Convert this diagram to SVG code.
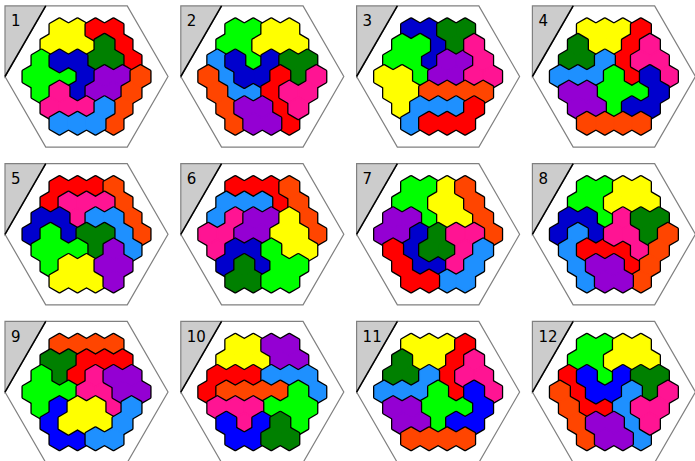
<svg xmlns="http://www.w3.org/2000/svg" width="695" height="461" viewBox="0 0 695 461">
<style>
.k{fill:#000;stroke:#000;stroke-width:4.2;stroke-linejoin:round}
.Y{fill:#ffff00;stroke:#ffff00;stroke-width:1.6}
.R{fill:#ff0000;stroke:#ff0000;stroke-width:1.6}
.G{fill:#00ff00;stroke:#00ff00;stroke-width:1.6}
.D{fill:#008000;stroke:#008000;stroke-width:1.6}
.B{fill:#0000cd;stroke:#0000cd;stroke-width:1.6}
.B2{fill:#0000ff;stroke:#0000ff;stroke-width:1.6}
.P{fill:#9400d3;stroke:#9400d3;stroke-width:1.6}
.K{fill:#ff1493;stroke:#ff1493;stroke-width:1.6}
.L{fill:#1e90ff;stroke:#1e90ff;stroke-width:1.6}
.O{fill:#ff4500;stroke:#ff4500;stroke-width:1.6}
.n{font-family:"DejaVu Sans","Liberation Sans",sans-serif;font-size:15px;fill:#000}
</style>
<defs>
<path id="h" d="M0,-10.392L9,-5.196L9,5.196L0,10.392L-9,5.196L-9,-5.196Z"/>
<g id="frame">
<polygon points="-40.75,-70.58 40.75,-70.58 81.5,0 40.75,70.58 -40.75,70.58 -81.5,0" fill="#fff" stroke="#808080" stroke-width="1.2"/>
<polygon points="-81.5,-70.58 -40.75,-70.58 -81.5,0" fill="#cccccc" stroke="#808080" stroke-width="1.2"/>
<line x1="-40.75" y1="-70.58" x2="-81.5" y2="0" stroke="#000" stroke-width="1.5"/>
</g>
<!-- puzzle 1 -->
<g id="p1Y"><use href="#h" x="-27" y="-46.77"/><use href="#h" x="-9" y="-46.77"/><use href="#h" x="-36" y="-31.18"/><use href="#h" x="-18" y="-31.18"/><use href="#h" x="0" y="-31.18"/></g>
<g id="p1R"><use href="#h" x="9" y="-46.77"/><use href="#h" x="27" y="-46.77"/><use href="#h" x="36" y="-31.18"/><use href="#h" x="45" y="-15.59"/></g>
<g id="p1D"><use href="#h" x="18" y="-31.18"/><use href="#h" x="9" y="-15.59"/><use href="#h" x="27" y="-15.59"/></g>
<g id="p1G"><use href="#h" x="-45" y="-15.59"/><use href="#h" x="-54" y="0"/><use href="#h" x="-36" y="0"/><use href="#h" x="-18" y="0"/><use href="#h" x="-45" y="15.59"/></g>
<g id="p1B"><use href="#h" x="-27" y="-15.59"/><use href="#h" x="-9" y="-15.59"/><use href="#h" x="0" y="0"/><use href="#h" x="-9" y="15.59"/></g>
<g id="p1P"><use href="#h" x="18" y="0"/><use href="#h" x="36" y="0"/><use href="#h" x="9" y="15.59"/><use href="#h" x="27" y="15.59"/></g>
<g id="p1O"><use href="#h" x="54" y="0"/><use href="#h" x="45" y="15.59"/><use href="#h" x="36" y="31.18"/><use href="#h" x="27" y="46.77"/></g>
<g id="p1K"><use href="#h" x="-27" y="15.59"/><use href="#h" x="-36" y="31.18"/><use href="#h" x="-18" y="31.18"/><use href="#h" x="0" y="31.18"/></g>
<g id="p1L"><use href="#h" x="18" y="31.18"/><use href="#h" x="-27" y="46.77"/><use href="#h" x="-9" y="46.77"/><use href="#h" x="9" y="46.77"/></g>
<!-- puzzle 2 -->
<g id="p2G"><use href="#h" x="-27" y="-46.77"/><use href="#h" x="-9" y="-46.77"/><use href="#h" x="-36" y="-31.18"/><use href="#h" x="-18" y="-31.18"/><use href="#h" x="-9" y="-15.59"/></g>
<g id="p2Y"><use href="#h" x="9" y="-46.77"/><use href="#h" x="27" y="-46.77"/><use href="#h" x="0" y="-31.18"/><use href="#h" x="18" y="-31.18"/><use href="#h" x="36" y="-31.18"/></g>
<g id="p2L"><use href="#h" x="-45" y="-15.59"/><use href="#h" x="-36" y="0"/><use href="#h" x="-27" y="15.59"/><use href="#h" x="-9" y="15.59"/></g>
<g id="p2B"><use href="#h" x="-27" y="-15.59"/><use href="#h" x="9" y="-15.59"/><use href="#h" x="-18" y="0"/><use href="#h" x="0" y="0"/></g>
<g id="p2D"><use href="#h" x="27" y="-15.59"/><use href="#h" x="45" y="-15.59"/><use href="#h" x="36" y="0"/></g>
<g id="p2O"><use href="#h" x="-54" y="0"/><use href="#h" x="-45" y="15.59"/><use href="#h" x="-36" y="31.18"/><use href="#h" x="-27" y="46.77"/></g>
<g id="p2R"><use href="#h" x="18" y="0"/><use href="#h" x="9" y="15.59"/><use href="#h" x="18" y="31.18"/><use href="#h" x="27" y="46.77"/></g>
<g id="p2K"><use href="#h" x="54" y="0"/><use href="#h" x="27" y="15.59"/><use href="#h" x="45" y="15.59"/><use href="#h" x="36" y="31.18"/></g>
<g id="p2P"><use href="#h" x="-18" y="31.18"/><use href="#h" x="0" y="31.18"/><use href="#h" x="-9" y="46.77"/><use href="#h" x="9" y="46.77"/></g>
<!-- puzzle 3 -->
<g id="p3B"><use href="#h" x="-27" y="-46.77"/><use href="#h" x="-9" y="-46.77"/><use href="#h" x="0" y="-31.18"/><use href="#h" x="-9" y="-15.59"/></g>
<g id="p3D"><use href="#h" x="9" y="-46.77"/><use href="#h" x="27" y="-46.77"/><use href="#h" x="18" y="-31.18"/></g>
<g id="p3G"><use href="#h" x="-36" y="-31.18"/><use href="#h" x="-18" y="-31.18"/><use href="#h" x="-45" y="-15.59"/><use href="#h" x="-27" y="-15.59"/><use href="#h" x="-18" y="0"/></g>
<g id="p3P"><use href="#h" x="9" y="-15.59"/><use href="#h" x="27" y="-15.59"/><use href="#h" x="0" y="0"/><use href="#h" x="18" y="0"/></g>
<g id="p3K"><use href="#h" x="36" y="-31.18"/><use href="#h" x="45" y="-15.59"/><use href="#h" x="36" y="0"/><use href="#h" x="54" y="0"/></g>
<g id="p3Y"><use href="#h" x="-54" y="0"/><use href="#h" x="-36" y="0"/><use href="#h" x="-45" y="15.59"/><use href="#h" x="-27" y="15.59"/><use href="#h" x="-36" y="31.18"/></g>
<g id="p3O"><use href="#h" x="-9" y="15.59"/><use href="#h" x="9" y="15.59"/><use href="#h" x="27" y="15.59"/><use href="#h" x="45" y="15.59"/></g>
<g id="p3L"><use href="#h" x="-18" y="31.18"/><use href="#h" x="0" y="31.18"/><use href="#h" x="18" y="31.18"/><use href="#h" x="-27" y="46.77"/></g>
<g id="p3R"><use href="#h" x="36" y="31.18"/><use href="#h" x="-9" y="46.77"/><use href="#h" x="9" y="46.77"/><use href="#h" x="27" y="46.77"/></g>
<!-- puzzle 4 / 11 -->
<g id="p4Y"><use href="#h" x="-27" y="-46.77"/><use href="#h" x="-9" y="-46.77"/><use href="#h" x="9" y="-46.77"/><use href="#h" x="-18" y="-31.18"/><use href="#h" x="0" y="-31.18"/></g>
<g id="p4R"><use href="#h" x="27" y="-46.77"/><use href="#h" x="18" y="-31.18"/><use href="#h" x="9" y="-15.59"/><use href="#h" x="18" y="0"/></g>
<g id="p4D"><use href="#h" x="-36" y="-31.18"/><use href="#h" x="-45" y="-15.59"/><use href="#h" x="-27" y="-15.59"/></g>
<g id="p4L"><use href="#h" x="-9" y="-15.59"/><use href="#h" x="-54" y="0"/><use href="#h" x="-36" y="0"/><use href="#h" x="-18" y="0"/></g>
<g id="p4K"><use href="#h" x="36" y="-31.18"/><use href="#h" x="27" y="-15.59"/><use href="#h" x="45" y="-15.59"/><use href="#h" x="54" y="0"/></g>
<g id="p4G"><use href="#h" x="0" y="0"/><use href="#h" x="-9" y="15.59"/><use href="#h" x="9" y="15.59"/><use href="#h" x="27" y="15.59"/><use href="#h" x="0" y="31.18"/></g>
<g id="p4B"><use href="#h" x="36" y="0"/><use href="#h" x="45" y="15.59"/><use href="#h" x="18" y="31.18"/><use href="#h" x="36" y="31.18"/></g>
<g id="p4P"><use href="#h" x="-45" y="15.59"/><use href="#h" x="-27" y="15.59"/><use href="#h" x="-36" y="31.18"/><use href="#h" x="-18" y="31.18"/></g>
<g id="p4O"><use href="#h" x="-27" y="46.77"/><use href="#h" x="-9" y="46.77"/><use href="#h" x="9" y="46.77"/><use href="#h" x="27" y="46.77"/></g>
<!-- puzzle 5 -->
<g id="p5R"><use href="#h" x="-27" y="-46.77"/><use href="#h" x="-9" y="-46.77"/><use href="#h" x="9" y="-46.77"/><use href="#h" x="-36" y="-31.18"/></g>
<g id="p5O"><use href="#h" x="27" y="-46.77"/><use href="#h" x="36" y="-31.18"/><use href="#h" x="45" y="-15.59"/><use href="#h" x="54" y="0"/></g>
<g id="p5K"><use href="#h" x="-18" y="-31.18"/><use href="#h" x="0" y="-31.18"/><use href="#h" x="18" y="-31.18"/><use href="#h" x="-9" y="-15.59"/></g>
<g id="p5B"><use href="#h" x="-45" y="-15.59"/><use href="#h" x="-27" y="-15.59"/><use href="#h" x="-54" y="0"/><use href="#h" x="-18" y="0"/></g>
<g id="p5L"><use href="#h" x="9" y="-15.59"/><use href="#h" x="27" y="-15.59"/><use href="#h" x="36" y="0"/><use href="#h" x="45" y="15.59"/></g>
<g id="p5D"><use href="#h" x="0" y="0"/><use href="#h" x="18" y="0"/><use href="#h" x="9" y="15.59"/></g>
<g id="p5G"><use href="#h" x="-36" y="0"/><use href="#h" x="-45" y="15.59"/><use href="#h" x="-27" y="15.59"/><use href="#h" x="-9" y="15.59"/><use href="#h" x="-36" y="31.18"/></g>
<g id="p5Y"><use href="#h" x="-18" y="31.18"/><use href="#h" x="0" y="31.18"/><use href="#h" x="-27" y="46.77"/><use href="#h" x="-9" y="46.77"/><use href="#h" x="9" y="46.77"/></g>
<g id="p5P"><use href="#h" x="27" y="15.59"/><use href="#h" x="18" y="31.18"/><use href="#h" x="36" y="31.18"/><use href="#h" x="27" y="46.77"/></g>
<!-- puzzle 6 -->
<g id="p6R"><use href="#h" x="-27" y="-46.77"/><use href="#h" x="-9" y="-46.77"/><use href="#h" x="9" y="-46.77"/><use href="#h" x="18" y="-31.18"/></g>
<g id="p6L"><use href="#h" x="-36" y="-31.18"/><use href="#h" x="-18" y="-31.18"/><use href="#h" x="0" y="-31.18"/><use href="#h" x="-45" y="-15.59"/></g>
<g id="p6K"><use href="#h" x="-27" y="-15.59"/><use href="#h" x="-54" y="0"/><use href="#h" x="-36" y="0"/><use href="#h" x="-45" y="15.59"/></g>
<g id="p6P"><use href="#h" x="-9" y="-15.59"/><use href="#h" x="9" y="-15.59"/><use href="#h" x="-18" y="0"/><use href="#h" x="0" y="0"/></g>
<g id="p6Y"><use href="#h" x="27" y="-15.59"/><use href="#h" x="18" y="0"/><use href="#h" x="36" y="0"/><use href="#h" x="27" y="15.59"/><use href="#h" x="45" y="15.59"/></g>
<g id="p6B"><use href="#h" x="-27" y="15.59"/><use href="#h" x="-9" y="15.59"/><use href="#h" x="-36" y="31.18"/><use href="#h" x="0" y="31.18"/></g>
<g id="p6D"><use href="#h" x="-18" y="31.18"/><use href="#h" x="-27" y="46.77"/><use href="#h" x="-9" y="46.77"/></g>
<g id="p6G"><use href="#h" x="9" y="15.59"/><use href="#h" x="18" y="31.18"/><use href="#h" x="36" y="31.18"/><use href="#h" x="9" y="46.77"/><use href="#h" x="27" y="46.77"/></g>
<!-- puzzle 7 / 8 -->
<g id="p7Y"><use href="#h" x="9" y="-46.77"/><use href="#h" x="0" y="-31.18"/><use href="#h" x="18" y="-31.18"/><use href="#h" x="9" y="-15.59"/><use href="#h" x="27" y="-15.59"/></g>
<g id="p7P"><use href="#h" x="-45" y="-15.59"/><use href="#h" x="-27" y="-15.59"/><use href="#h" x="-54" y="0"/><use href="#h" x="-36" y="0"/></g>
<g id="p7B"><use href="#h" x="-18" y="0"/><use href="#h" x="-27" y="15.59"/><use href="#h" x="-18" y="31.18"/><use href="#h" x="0" y="31.18"/></g>
<g id="p7D"><use href="#h" x="0" y="0"/><use href="#h" x="-9" y="15.59"/><use href="#h" x="9" y="15.59"/></g>
<g id="p7K"><use href="#h" x="18" y="0"/><use href="#h" x="36" y="0"/><use href="#h" x="27" y="15.59"/><use href="#h" x="18" y="31.18"/></g>
<g id="p7L"><use href="#h" x="45" y="15.59"/><use href="#h" x="36" y="31.18"/><use href="#h" x="9" y="46.77"/><use href="#h" x="27" y="46.77"/></g>
<g id="p7R"><use href="#h" x="-45" y="15.59"/><use href="#h" x="-36" y="31.18"/><use href="#h" x="-27" y="46.77"/><use href="#h" x="-9" y="46.77"/></g>
<g id="p8L"><use href="#h" x="-36" y="0"/><use href="#h" x="-45" y="15.59"/><use href="#h" x="-36" y="31.18"/><use href="#h" x="-27" y="46.77"/></g>
<g id="p8R"><use href="#h" x="-27" y="15.59"/><use href="#h" x="-9" y="15.59"/><use href="#h" x="9" y="15.59"/><use href="#h" x="18" y="31.18"/></g>
<g id="p8K"><use href="#h" x="9" y="-15.59"/><use href="#h" x="0" y="0"/><use href="#h" x="18" y="0"/><use href="#h" x="27" y="15.59"/></g>
<!-- puzzle 9 -->
<g id="p9O"><use href="#h" x="-27" y="-46.77"/><use href="#h" x="-9" y="-46.77"/><use href="#h" x="9" y="-46.77"/><use href="#h" x="27" y="-46.77"/></g>
<g id="p9D"><use href="#h" x="-36" y="-31.18"/><use href="#h" x="-18" y="-31.18"/><use href="#h" x="-27" y="-15.59"/></g>
<g id="p9R"><use href="#h" x="0" y="-31.18"/><use href="#h" x="18" y="-31.18"/><use href="#h" x="36" y="-31.18"/><use href="#h" x="-9" y="-15.59"/></g>
<g id="p9P"><use href="#h" x="27" y="-15.59"/><use href="#h" x="45" y="-15.59"/><use href="#h" x="36" y="0"/><use href="#h" x="54" y="0"/></g>
<g id="p9B"><use href="#h" x="-27" y="15.59"/><use href="#h" x="-36" y="31.18"/><use href="#h" x="-27" y="46.77"/><use href="#h" x="-9" y="46.77"/></g>
<g id="p9Y"><use href="#h" x="-9" y="15.59"/><use href="#h" x="9" y="15.59"/><use href="#h" x="-18" y="31.18"/><use href="#h" x="0" y="31.18"/><use href="#h" x="18" y="31.18"/></g>
<!-- puzzle 10 -->
<g id="p10P"><use href="#h" x="9" y="-46.77"/><use href="#h" x="27" y="-46.77"/><use href="#h" x="18" y="-31.18"/><use href="#h" x="36" y="-31.18"/></g>
<g id="p10R"><use href="#h" x="-45" y="-15.59"/><use href="#h" x="-27" y="-15.59"/><use href="#h" x="-9" y="-15.59"/><use href="#h" x="-54" y="0"/></g>
<g id="p10L"><use href="#h" x="9" y="-15.59"/><use href="#h" x="27" y="-15.59"/><use href="#h" x="45" y="-15.59"/><use href="#h" x="54" y="0"/></g>
<g id="p10O"><use href="#h" x="-36" y="0"/><use href="#h" x="-18" y="0"/><use href="#h" x="0" y="0"/><use href="#h" x="18" y="0"/></g>
<g id="p10G"><use href="#h" x="36" y="0"/><use href="#h" x="9" y="15.59"/><use href="#h" x="27" y="15.59"/><use href="#h" x="45" y="15.59"/><use href="#h" x="36" y="31.18"/></g>
<g id="p10K"><use href="#h" x="-45" y="15.59"/><use href="#h" x="-27" y="15.59"/><use href="#h" x="-9" y="15.59"/><use href="#h" x="-18" y="31.18"/></g>
<g id="p10B"><use href="#h" x="-36" y="31.18"/><use href="#h" x="0" y="31.18"/><use href="#h" x="-27" y="46.77"/><use href="#h" x="-9" y="46.77"/></g>
<g id="p10D"><use href="#h" x="18" y="31.18"/><use href="#h" x="9" y="46.77"/><use href="#h" x="27" y="46.77"/></g>
</defs>
<rect width="695" height="461" fill="#fff"/>

<g id="puzzle1" transform="translate(86.5 76.5)">
<use href="#frame"/><text class="n" x="-75.5" y="-50.5">1</text>
<g id="pz1-yellow"><use href="#p1Y" class="k"/><use href="#p1Y" class="Y"/></g>
<g id="pz1-red"><use href="#p1R" class="k"/><use href="#p1R" class="R"/></g>
<g id="pz1-darkgreen"><use href="#p1D" class="k"/><use href="#p1D" class="D"/></g>
<g id="pz1-green"><use href="#p1G" class="k"/><use href="#p1G" class="G"/></g>
<g id="pz1-blue"><use href="#p1B" class="k"/><use href="#p1B" class="B"/></g>
<g id="pz1-purple"><use href="#p1P" class="k"/><use href="#p1P" class="P"/></g>
<g id="pz1-orange"><use href="#p1O" class="k"/><use href="#p1O" class="O"/></g>
<g id="pz1-pink"><use href="#p1K" class="k"/><use href="#p1K" class="K"/></g>
<g id="pz1-lightblue"><use href="#p1L" class="k"/><use href="#p1L" class="L"/></g>
</g>

<g id="puzzle2" transform="translate(262.3 76.5)">
<use href="#frame"/><text class="n" x="-75.5" y="-50.5">2</text>
<g id="pz2-green"><use href="#p2G" class="k"/><use href="#p2G" class="G"/></g>
<g id="pz2-yellow"><use href="#p2Y" class="k"/><use href="#p2Y" class="Y"/></g>
<g id="pz2-lightblue"><use href="#p2L" class="k"/><use href="#p2L" class="L"/></g>
<g id="pz2-blue"><use href="#p2B" class="k"/><use href="#p2B" class="B"/></g>
<g id="pz2-darkgreen"><use href="#p2D" class="k"/><use href="#p2D" class="D"/></g>
<g id="pz2-orange"><use href="#p2O" class="k"/><use href="#p2O" class="O"/></g>
<g id="pz2-red"><use href="#p2R" class="k"/><use href="#p2R" class="R"/></g>
<g id="pz2-pink"><use href="#p2K" class="k"/><use href="#p2K" class="K"/></g>
<g id="pz2-purple"><use href="#p2P" class="k"/><use href="#p2P" class="P"/></g>
</g>

<g id="puzzle3" transform="translate(438.1 76.5)">
<use href="#frame"/><text class="n" x="-75.5" y="-50.5">3</text>
<g id="pz3-blue"><use href="#p3B" class="k"/><use href="#p3B" class="B"/></g>
<g id="pz3-darkgreen"><use href="#p3D" class="k"/><use href="#p3D" class="D"/></g>
<g id="pz3-green"><use href="#p3G" class="k"/><use href="#p3G" class="G"/></g>
<g id="pz3-purple"><use href="#p3P" class="k"/><use href="#p3P" class="P"/></g>
<g id="pz3-pink"><use href="#p3K" class="k"/><use href="#p3K" class="K"/></g>
<g id="pz3-yellow"><use href="#p3Y" class="k"/><use href="#p3Y" class="Y"/></g>
<g id="pz3-orange"><use href="#p3O" class="k"/><use href="#p3O" class="O"/></g>
<g id="pz3-lightblue"><use href="#p3L" class="k"/><use href="#p3L" class="L"/></g>
<g id="pz3-red"><use href="#p3R" class="k"/><use href="#p3R" class="R"/></g>
</g>

<g id="puzzle4" transform="translate(613.9 76.5)">
<use href="#frame"/><text class="n" x="-75.5" y="-50.5">4</text>
<g id="pz4-yellow"><use href="#p4Y" class="k"/><use href="#p4Y" class="Y"/></g>
<g id="pz4-red"><use href="#p4R" class="k"/><use href="#p4R" class="R"/></g>
<g id="pz4-darkgreen"><use href="#p4D" class="k"/><use href="#p4D" class="D"/></g>
<g id="pz4-lightblue"><use href="#p4L" class="k"/><use href="#p4L" class="L"/></g>
<g id="pz4-pink"><use href="#p4K" class="k"/><use href="#p4K" class="K"/></g>
<g id="pz4-green"><use href="#p4G" class="k"/><use href="#p4G" class="G"/></g>
<g id="pz4-blue"><use href="#p4B" class="k"/><use href="#p4B" class="B"/></g>
<g id="pz4-purple"><use href="#p4P" class="k"/><use href="#p4P" class="P"/></g>
<g id="pz4-orange"><use href="#p4O" class="k"/><use href="#p4O" class="O"/></g>
</g>

<g id="puzzle5" transform="translate(86.5 234.25)">
<use href="#frame"/><text class="n" x="-75.5" y="-50.5">5</text>
<g id="pz5-red"><use href="#p5R" class="k"/><use href="#p5R" class="R"/></g>
<g id="pz5-orange"><use href="#p5O" class="k"/><use href="#p5O" class="O"/></g>
<g id="pz5-pink"><use href="#p5K" class="k"/><use href="#p5K" class="K"/></g>
<g id="pz5-blue"><use href="#p5B" class="k"/><use href="#p5B" class="B"/></g>
<g id="pz5-lightblue"><use href="#p5L" class="k"/><use href="#p5L" class="L"/></g>
<g id="pz5-darkgreen"><use href="#p5D" class="k"/><use href="#p5D" class="D"/></g>
<g id="pz5-green"><use href="#p5G" class="k"/><use href="#p5G" class="G"/></g>
<g id="pz5-yellow"><use href="#p5Y" class="k"/><use href="#p5Y" class="Y"/></g>
<g id="pz5-purple"><use href="#p5P" class="k"/><use href="#p5P" class="P"/></g>
</g>

<g id="puzzle6" transform="translate(262.3 234.25)">
<use href="#frame"/><text class="n" x="-75.5" y="-50.5">6</text>
<g id="pz6-red"><use href="#p6R" class="k"/><use href="#p6R" class="R"/></g>
<g id="pz6-orange"><use href="#p5O" class="k"/><use href="#p5O" class="O"/></g>
<g id="pz6-lightblue"><use href="#p6L" class="k"/><use href="#p6L" class="L"/></g>
<g id="pz6-pink"><use href="#p6K" class="k"/><use href="#p6K" class="K"/></g>
<g id="pz6-purple"><use href="#p6P" class="k"/><use href="#p6P" class="P"/></g>
<g id="pz6-yellow"><use href="#p6Y" class="k"/><use href="#p6Y" class="Y"/></g>
<g id="pz6-blue"><use href="#p6B" class="k"/><use href="#p6B" class="B"/></g>
<g id="pz6-darkgreen"><use href="#p6D" class="k"/><use href="#p6D" class="D"/></g>
<g id="pz6-green"><use href="#p6G" class="k"/><use href="#p6G" class="G"/></g>
</g>

<g id="puzzle7" transform="translate(438.1 234.25)">
<use href="#frame"/><text class="n" x="-75.5" y="-50.5">7</text>
<g id="pz7-green"><use href="#p2G" class="k"/><use href="#p2G" class="G"/></g>
<g id="pz7-yellow"><use href="#p7Y" class="k"/><use href="#p7Y" class="Y"/></g>
<g id="pz7-orange"><use href="#p5O" class="k"/><use href="#p5O" class="O"/></g>
<g id="pz7-purple"><use href="#p7P" class="k"/><use href="#p7P" class="P"/></g>
<g id="pz7-blue"><use href="#p7B" class="k"/><use href="#p7B" class="B"/></g>
<g id="pz7-darkgreen"><use href="#p7D" class="k"/><use href="#p7D" class="D"/></g>
<g id="pz7-pink"><use href="#p7K" class="k"/><use href="#p7K" class="K"/></g>
<g id="pz7-lightblue"><use href="#p7L" class="k"/><use href="#p7L" class="L"/></g>
<g id="pz7-red"><use href="#p7R" class="k"/><use href="#p7R" class="R"/></g>
</g>

<g id="puzzle8" transform="translate(613.9 234.25)">
<use href="#frame"/><text class="n" x="-75.5" y="-50.5">8</text>
<g id="pz8-green"><use href="#p2G" class="k"/><use href="#p2G" class="G"/></g>
<g id="pz8-yellow"><use href="#p2Y" class="k"/><use href="#p2Y" class="Y"/></g>
<g id="pz8-blue"><use href="#p5B" class="k"/><use href="#p5B" class="B"/></g>
<g id="pz8-lightblue"><use href="#p8L" class="k"/><use href="#p8L" class="L"/></g>
<g id="pz8-red"><use href="#p8R" class="k"/><use href="#p8R" class="R"/></g>
<g id="pz8-pink"><use href="#p8K" class="k"/><use href="#p8K" class="K"/></g>
<g id="pz8-darkgreen"><use href="#p2D" class="k"/><use href="#p2D" class="D"/></g>
<g id="pz8-orange"><use href="#p1O" class="k"/><use href="#p1O" class="O"/></g>
<g id="pz8-purple"><use href="#p2P" class="k"/><use href="#p2P" class="P"/></g>
</g>

<g id="puzzle9" transform="translate(86.5 392)">
<use href="#frame"/><text class="n" x="-75.5" y="-50.5">9</text>
<g id="pz9-orange"><use href="#p9O" class="k"/><use href="#p9O" class="O"/></g>
<g id="pz9-darkgreen"><use href="#p9D" class="k"/><use href="#p9D" class="D"/></g>
<g id="pz9-red"><use href="#p9R" class="k"/><use href="#p9R" class="R"/></g>
<g id="pz9-green"><use href="#p1G" class="k"/><use href="#p1G" class="G"/></g>
<g id="pz9-pink"><use href="#p8K" class="k"/><use href="#p8K" class="K"/></g>
<g id="pz9-purple"><use href="#p9P" class="k"/><use href="#p9P" class="P"/></g>
<g id="pz9-blue"><use href="#p9B" class="k"/><use href="#p9B" class="B2"/></g>
<g id="pz9-yellow"><use href="#p9Y" class="k"/><use href="#p9Y" class="Y"/></g>
<g id="pz9-lightblue"><use href="#p7L" class="k"/><use href="#p7L" class="L"/></g>
</g>

<g id="puzzle10" transform="translate(262.3 392)">
<use href="#frame"/><text class="n" x="-75.5" y="-50.5">10</text>
<g id="pz10-yellow"><use href="#p1Y" class="k"/><use href="#p1Y" class="Y"/></g>
<g id="pz10-purple"><use href="#p10P" class="k"/><use href="#p10P" class="P"/></g>
<g id="pz10-red"><use href="#p10R" class="k"/><use href="#p10R" class="R"/></g>
<g id="pz10-lightblue"><use href="#p10L" class="k"/><use href="#p10L" class="L"/></g>
<g id="pz10-orange"><use href="#p10O" class="k"/><use href="#p10O" class="O"/></g>
<g id="pz10-green"><use href="#p10G" class="k"/><use href="#p10G" class="G"/></g>
<g id="pz10-pink"><use href="#p10K" class="k"/><use href="#p10K" class="K"/></g>
<g id="pz10-blue"><use href="#p10B" class="k"/><use href="#p10B" class="B2"/></g>
<g id="pz10-darkgreen"><use href="#p10D" class="k"/><use href="#p10D" class="D"/></g>
</g>

<g id="puzzle11" transform="translate(438.1 392)">
<use href="#frame"/><text class="n" x="-75.5" y="-50.5">11</text>
<g id="pz11-yellow"><use href="#p4Y" class="k"/><use href="#p4Y" class="Y"/></g>
<g id="pz11-red"><use href="#p4R" class="k"/><use href="#p4R" class="R"/></g>
<g id="pz11-darkgreen"><use href="#p4D" class="k"/><use href="#p4D" class="D"/></g>
<g id="pz11-lightblue"><use href="#p4L" class="k"/><use href="#p4L" class="L"/></g>
<g id="pz11-pink"><use href="#p4K" class="k"/><use href="#p4K" class="K"/></g>
<g id="pz11-green"><use href="#p4G" class="k"/><use href="#p4G" class="G"/></g>
<g id="pz11-blue"><use href="#p4B" class="k"/><use href="#p4B" class="B2"/></g>
<g id="pz11-purple"><use href="#p4P" class="k"/><use href="#p4P" class="P"/></g>
<g id="pz11-orange"><use href="#p4O" class="k"/><use href="#p4O" class="O"/></g>
</g>

<g id="puzzle12" transform="translate(613.9 392)">
<use href="#frame"/><text class="n" x="-75.5" y="-50.5">12</text>
<g id="pz12-green"><use href="#p2G" class="k"/><use href="#p2G" class="G"/></g>
<g id="pz12-yellow"><use href="#p2Y" class="k"/><use href="#p2Y" class="Y"/></g>
<g id="pz12-red"><use href="#p2L" class="k"/><use href="#p2L" class="R"/></g>
<g id="pz12-blue"><use href="#p2B" class="k"/><use href="#p2B" class="B2"/></g>
<g id="pz12-darkgreen"><use href="#p2D" class="k"/><use href="#p2D" class="D"/></g>
<g id="pz12-orange"><use href="#p2O" class="k"/><use href="#p2O" class="O"/></g>
<g id="pz12-lightblue"><use href="#p2R" class="k"/><use href="#p2R" class="L"/></g>
<g id="pz12-pink"><use href="#p2K" class="k"/><use href="#p2K" class="K"/></g>
<g id="pz12-purple"><use href="#p2P" class="k"/><use href="#p2P" class="P"/></g>
</g>
</svg>
